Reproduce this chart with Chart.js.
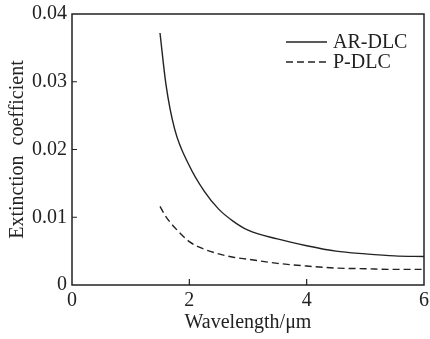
<!DOCTYPE html>
<html>
<head>
<meta charset="utf-8">
<script src="https://cdn.jsdelivr.net/npm/chart.js@4"></script>
<style>
  body { margin: 0; background: #fff; }
  #wrap { width: 430px; height: 339px; }
</style>
</head>
<body>
<div id="wrap"><canvas id="chart" width="430" height="339"></canvas></div>
<script>
const wavelength = [1.5, 1.6, 1.75, 2.0, 2.25, 2.5, 2.75, 3.0, 3.5, 4.0, 4.5, 5.0, 5.5, 6.0];
const arDlc = [0.0372, 0.0297, 0.0230, 0.0176, 0.0139, 0.0112, 0.0094, 0.0081, 0.0068, 0.0058, 0.0050, 0.0046, 0.0043, 0.0042];
const pDlc = [0.0116, 0.0101, 0.0085, 0.0064, 0.0053, 0.0046, 0.0041, 0.0038, 0.0032, 0.0028, 0.0025, 0.0024, 0.0023, 0.0023];
const seriesNames = ["AR-DLC", "P-DLC"];
const xTicks = [0, 2, 4, 6];
const yTicks = [0, 0.01, 0.02, 0.03, 0.04];

const FONT = "'Liberation Serif', 'Times New Roman', serif";
const INK = "#222";

const toPoints = (ys) => wavelength.map((x, i) => ({ x, y: ys[i] }));

// box around the plot area, inward ticks, and the legend in the corner
const framePlugin = {
  id: "frame",
  afterDatasetsDraw(chart) {
    const { ctx, chartArea: a, scales } = chart;
    ctx.save();
    ctx.strokeStyle = INK;
    ctx.lineWidth = 1.5;
    ctx.strokeRect(a.left, a.top, a.right - a.left, a.bottom - a.top);

    ctx.lineWidth = 1.2;
    ctx.beginPath();
    xTicks.slice(1, -1).forEach((v) => {
      const px = scales.x.getPixelForValue(v);
      ctx.moveTo(px, a.bottom);
      ctx.lineTo(px, a.bottom - 6);
    });
    yTicks.slice(1, -1).forEach((v) => {
      const py = scales.y.getPixelForValue(v);
      ctx.moveTo(a.left, py);
      ctx.lineTo(a.left + 5, py);
    });
    ctx.stroke();

    ctx.font = "20px " + FONT;
    ctx.textBaseline = "middle";
    ctx.fillStyle = INK;
    chart.data.datasets.forEach((ds, i) => {
      const y = a.top + 28 + i * 20;
      ctx.setLineDash(ds.borderDash || []);
      ctx.lineWidth = 1.4;
      ctx.beginPath();
      ctx.moveTo(a.right - 138, y);
      ctx.lineTo(a.right - 97, y);
      ctx.stroke();
      ctx.setLineDash([]);
      ctx.fillText(ds.label, a.right - 91, y + 1);
    });
    ctx.restore();
  },
};

new Chart(document.getElementById("chart"), {
  type: "line",
  data: {
    datasets: [
      {
        label: seriesNames[0],
        data: toPoints(arDlc),
        borderColor: INK,
        borderWidth: 1.4,
        pointRadius: 0,
        cubicInterpolationMode: "monotone",
      },
      {
        label: seriesNames[1],
        data: toPoints(pDlc),
        borderColor: INK,
        borderWidth: 1.4,
        borderDash: [7, 4],
        pointRadius: 0,
        cubicInterpolationMode: "monotone",
      },
    ],
  },
  options: {
    responsive: false,
    animation: false,
    layout: { padding: { top: 14, right: 6, left: 2, bottom: 0 } },
    plugins: { legend: { display: false }, tooltip: { enabled: false } },
    scales: {
      x: {
        type: "linear",
        min: 0,
        max: 6,
        afterBuildTicks: (s) => { s.ticks = xTicks.map((value) => ({ value })); },
        afterFit: (s) => { s.height = 54; s.paddingLeft = 0; s.paddingRight = 0; },
        grid: { display: false, drawTicks: false },
        border: { display: false },
        ticks: { padding: 4, color: INK, font: { family: FONT, size: 20 } },
        title: {
          display: true,
          text: "Wavelength/μm",
          color: INK,
          padding: { top: 6 },
          font: { family: FONT, size: 20 },
        },
      },
      y: {
        min: 0,
        max: 0.04,
        afterBuildTicks: (s) => { s.ticks = yTicks.map((value) => ({ value })); },
        afterFit: (s) => { s.width = 70; s.paddingTop = 0; s.paddingBottom = 0; },
        grid: { display: false, drawTicks: false },
        border: { display: false },
        ticks: { padding: 5, color: INK, font: { family: FONT, size: 20 } },
        title: {
          display: true,
          text: "Extinction  coefficient",
          color: INK,
          padding: { bottom: 0 },
          font: { family: FONT, size: 20 },
        },
      },
    },
  },
  plugins: [framePlugin],
});
</script>
</body>
</html>
